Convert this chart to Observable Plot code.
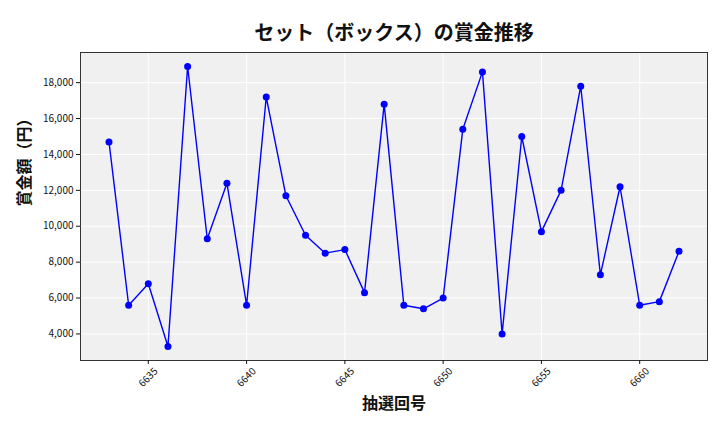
<!DOCTYPE html>
<html><head><meta charset="utf-8">
<script src="https://cdn.jsdelivr.net/npm/d3@7"></script>
<script src="https://cdn.jsdelivr.net/npm/@observablehq/plot@0.6"></script>
<style>body{margin:0;background:#fff;}</style>
</head><body><div id="chart"></div>
<script>
const draws = [6633,6634,6635,6636,6637,6638,6639,6640,6641,6642,6643,6644,6645,6646,6647,6648,6649,6650,6651,6652,6653,6654,6655,6656,6657,6658,6659,6660,6661,6662];
const prizes = [14700,5600,6800,3300,18900,9300,12400,5600,17200,11700,9500,8500,8700,6300,16800,5600,5400,6000,15400,18600,4000,15000,9700,12000,17800,7300,12200,5600,5800,8600];
const yTicks = [4000,6000,8000,10000,12000,14000,16000,18000];
const xTicks = [6635,6640,6645,6650,6655,6660];
const title = "セット（ボックス）の賞金推移";
const xLabel = "抽選回号";
const yLabel = "賞金額（円）";

const data = draws.map((d, i) => ({draw: d, prize: prizes[i]}));
const font = "'Noto Sans CJK JP', 'Noto Sans', sans-serif";

const chart = Plot.plot({
  width: 720, height: 432,
  marginLeft: 80, marginRight: 13, marginTop: 52, marginBottom: 72,
  style: {fontFamily: font, fontSize: "10px", background: "#fff", color: "#111"},
  x: {domain: [6631.55, 6663.45]},
  y: {domain: [2520, 19680]},
  marks: [
    Plot.frame({fill: "#f0f0f0"}),
    Plot.gridX(xTicks, {stroke: "#fff", strokeOpacity: 1, strokeWidth: 1}),
    Plot.gridY(yTicks, {stroke: "#fff", strokeOpacity: 1, strokeWidth: 1}),
    Plot.frame({stroke: "#333", strokeWidth: 1}),
    Plot.axisY(yTicks, {tickSize: 4, tickPadding: 3, tickFormat: d3.format(","), label: null}),
    Plot.axisX(xTicks, {tickSize: 4, tickRotate: -45, textAnchor: "middle", lineAnchor: "middle", tickPadding: 13, label: null, tickFormat: d => String(d)}),
    Plot.line(data, {x: "draw", y: "prize", stroke: "#0000ff", strokeWidth: 1.4}),
    Plot.dot(data, {x: "draw", y: "prize", r: 3.5, fill: "#0000ff"}),
    Plot.text([title], {text: d => d, frameAnchor: "top", dy: -27, fontSize: 20, fontWeight: "bold", fill: "#111"}),
    Plot.text([xLabel], {text: d => d, frameAnchor: "bottom", dy: 48, fontSize: 16, fontWeight: "bold", fill: "#111"}),
    Plot.text([yLabel], {text: d => d, frameAnchor: "left", dx: -56, rotate: -90, fontSize: 16, fontWeight: "bold", fill: "#111"})
  ]
});
document.getElementById("chart").appendChild(chart);
</script>
</body></html>
